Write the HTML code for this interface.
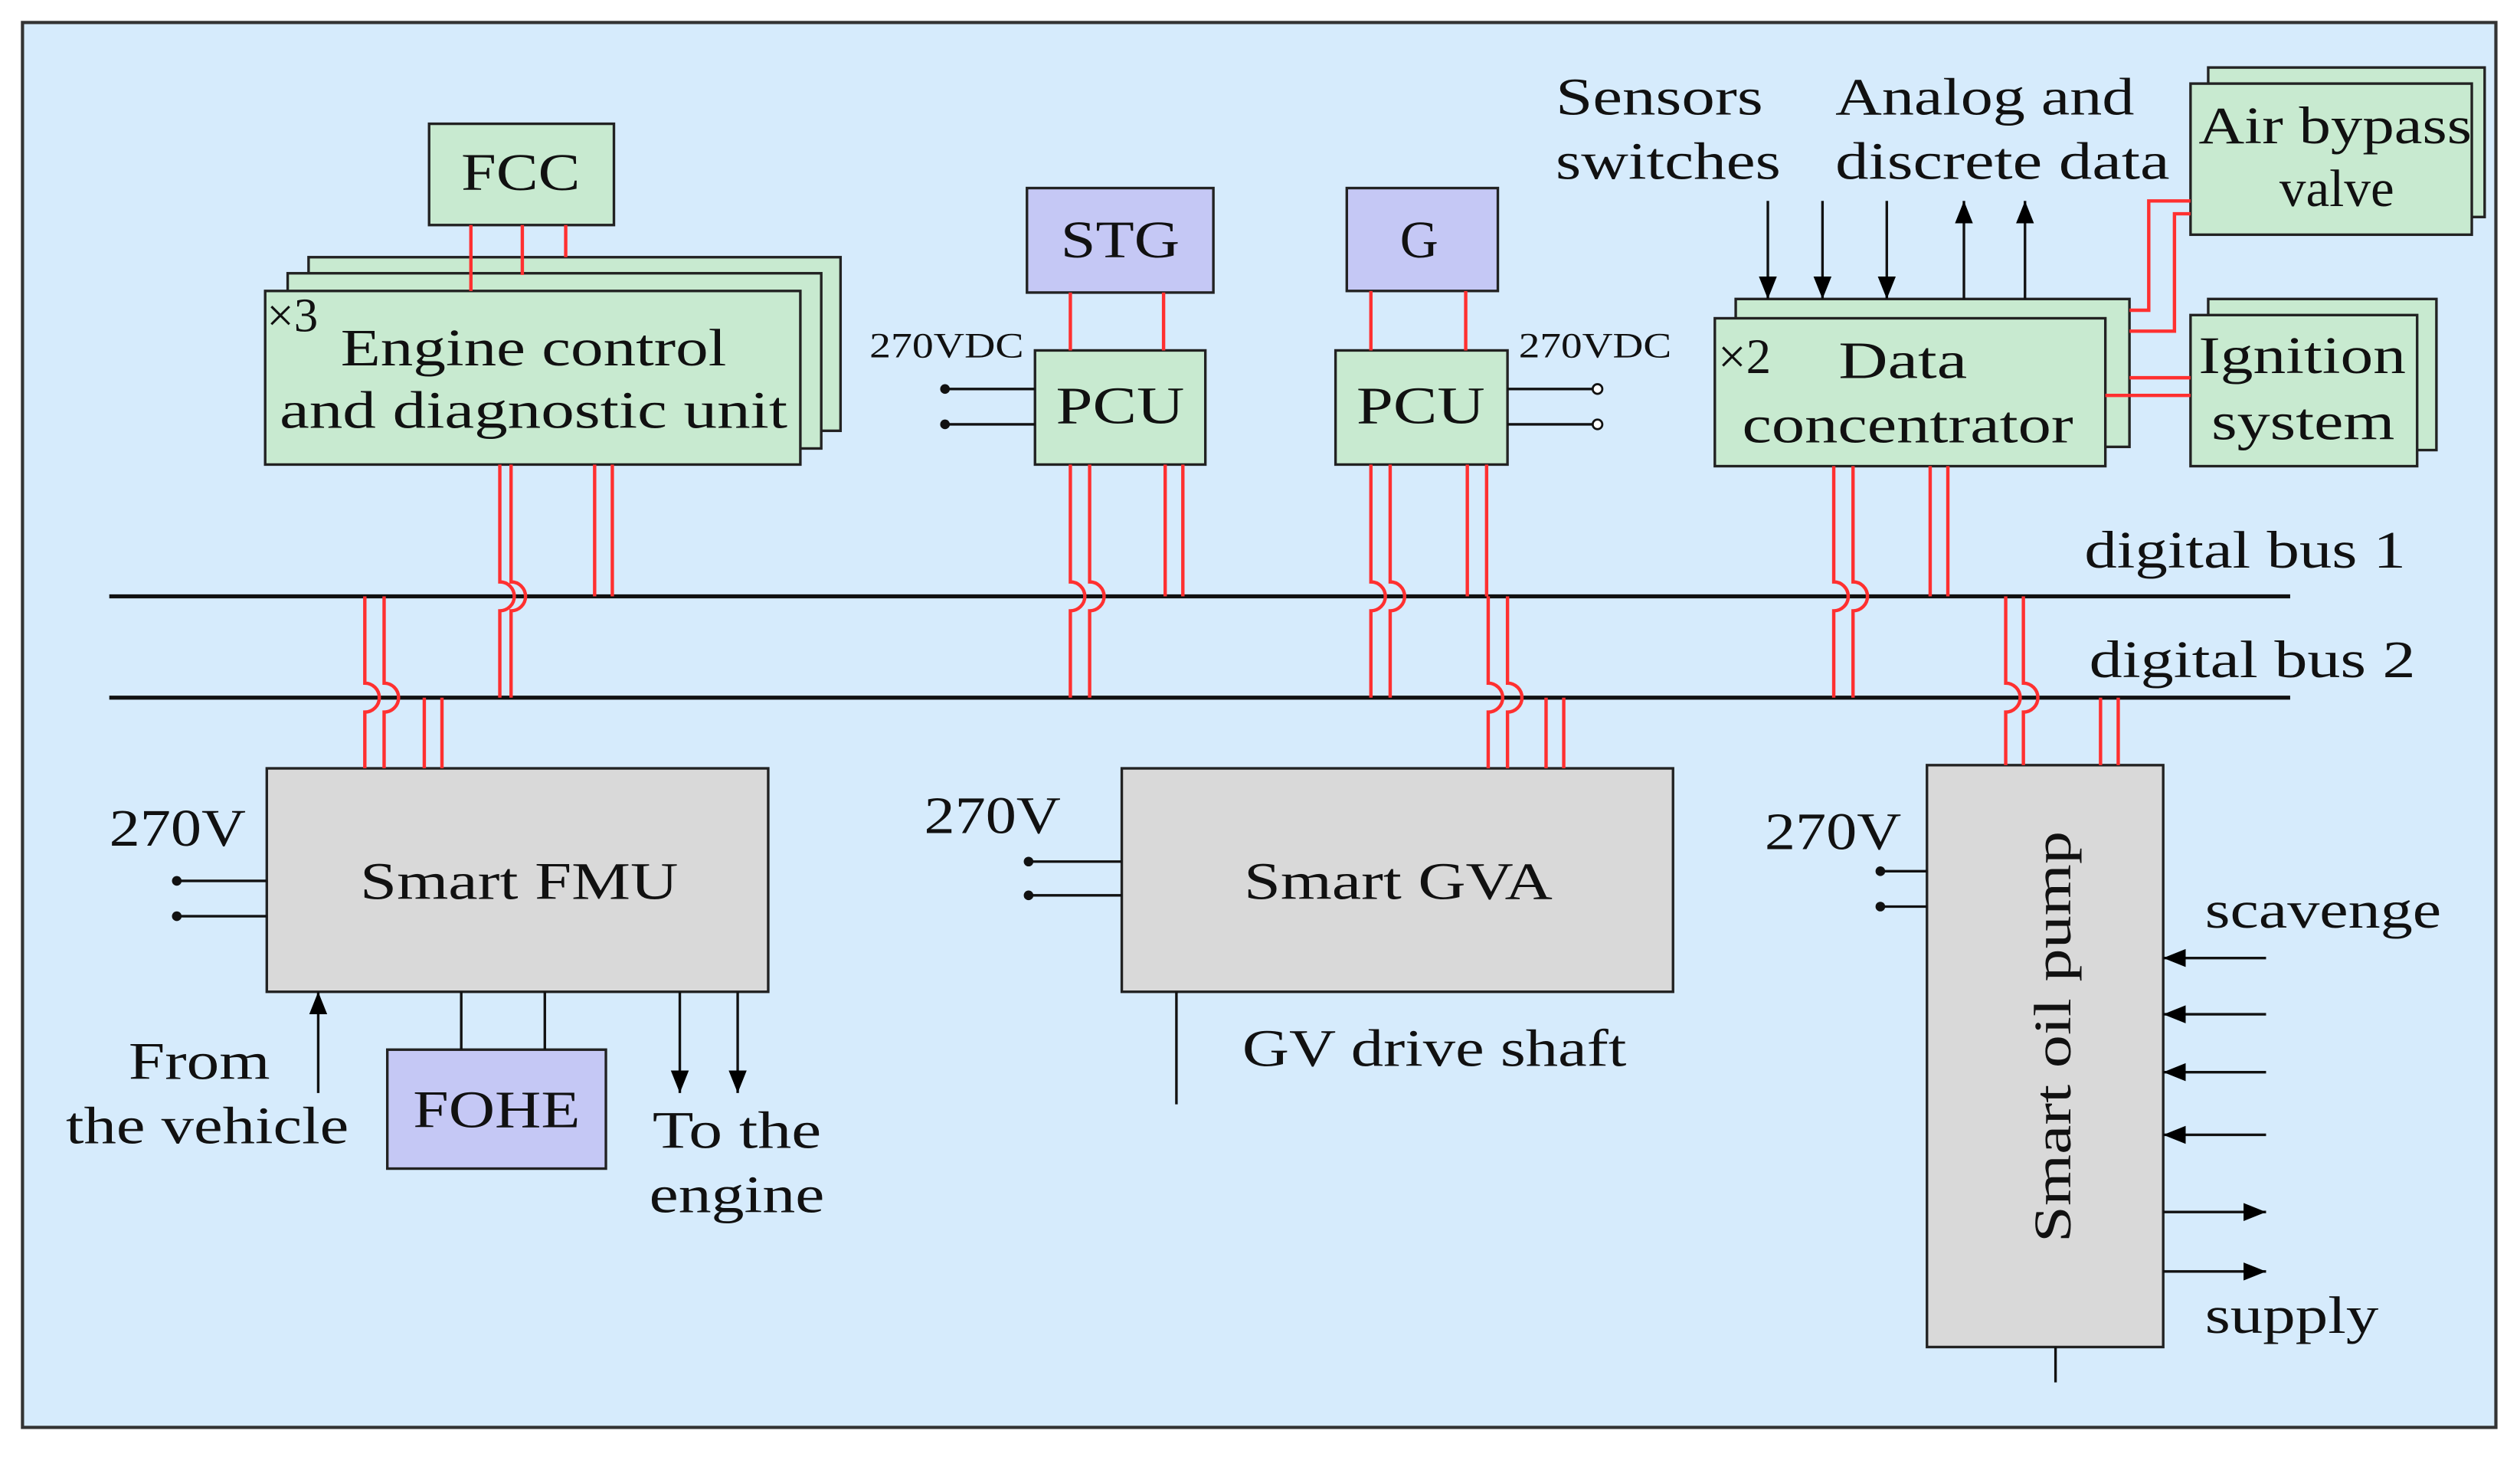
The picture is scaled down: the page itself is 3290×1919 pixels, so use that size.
<!DOCTYPE html>
<html><head><meta charset="utf-8"><style>
html,body{margin:0;padding:0;background:#fff;}
svg{display:block}
text{font-family:"Liberation Serif",serif;fill:#111;dominant-baseline:central}
</style></head><body>
<svg width="3290" height="1919" viewBox="0 0 1568 914.5" preserveAspectRatio="none" xmlns="http://www.w3.org/2000/svg">
<defs>
<marker id="a" viewBox="0 0 10 10" markerWidth="14" markerHeight="16" refX="10" refY="5" orient="auto" markerUnits="userSpaceOnUse">
<path d="M0,1 L10,5 L0,9 Z" fill="#000"/>
</marker>
</defs>
<rect x="14" y="14" width="1539" height="874" fill="#d6ebfc" stroke="#333" stroke-width="2"/>

<g stroke="#222" stroke-width="1.6">
<rect x="267" y="77" width="115" height="63" fill="#c8ead0"/>
<rect x="192" y="160" width="331" height="108" fill="#c8ead0"/>
<rect x="179" y="170" width="332" height="109" fill="#c8ead0"/>
<rect x="165" y="181" width="333" height="108" fill="#c8ead0"/>
<rect x="639" y="117" width="116" height="65" fill="#c5c8f5"/>
<rect x="838" y="117" width="94" height="64" fill="#c5c8f5"/>
<rect x="644" y="218" width="106" height="71" fill="#c8ead0"/>
<rect x="831" y="218" width="107" height="71" fill="#c8ead0"/>
<rect x="1080" y="186" width="245" height="92" fill="#c8ead0"/>
<rect x="1067" y="198" width="243" height="92" fill="#c8ead0"/>
<rect x="1374" y="42" width="172" height="93" fill="#c8ead0"/>
<rect x="1363" y="52" width="175" height="94" fill="#c8ead0"/>
<rect x="1374" y="186" width="142" height="94" fill="#c8ead0"/>
<rect x="1363" y="196" width="141" height="94" fill="#c8ead0"/>
<rect x="166" y="478" width="312" height="139" fill="#d9d9d9"/>
<rect x="241" y="653" width="136" height="74" fill="#c5c8f5"/>
<rect x="698" y="478" width="343" height="139" fill="#d9d9d9"/>
<rect x="1199" y="476" width="147" height="362" fill="#d9d9d9"/>
</g>

<g stroke="#111" stroke-width="2.5">
<line x1="68" y1="371" x2="1425" y2="371"/>
<line x1="68" y1="434" x2="1425" y2="434"/>
</g>

<g stroke="#ff3030" stroke-width="2.1" fill="none">
<path d="M293,140V181 M325,140V171 M352,140V160"/>
<path d="M666,182V218 M724,182V218 M853,181V218 M912,181V218"/>
<path d="M311,289V362A9,9 0 0 1 311,380V434 M318,289V362A9,9 0 0 1 318,380V434"/>
<path d="M370,289V371 M381,289V371"/>
<path d="M227,371V425A9,9 0 0 1 227,443V478 M239,371V425A9,9 0 0 1 239,443V478"/>
<path d="M264,434V478 M275,434V478"/>
<path d="M666,289V362A9,9 0 0 1 666,380V434 M678,289V362A9,9 0 0 1 678,380V434"/>
<path d="M725,289V371 M736,289V371"/>
<path d="M853,289V362A9,9 0 0 1 853,380V434 M865,289V362A9,9 0 0 1 865,380V434"/>
<path d="M913,289V371 M925,289V371"/>
<path d="M926,371V425A9,9 0 0 1 926,443V478 M938,371V425A9,9 0 0 1 938,443V478"/>
<path d="M962,434V478 M973,434V478"/>
<path d="M1141,290V362A9,9 0 0 1 1141,380V434 M1153,290V362A9,9 0 0 1 1153,380V434"/>
<path d="M1201,290V371 M1212,290V371"/>
<path d="M1248,371V425A9,9 0 0 1 1248,443V476 M1259,371V425A9,9 0 0 1 1259,443V476"/>
<path d="M1307,434V476 M1318,434V476"/>
<path d="M1325,193H1337V125H1363 M1325,206H1353V133H1363"/>
<path d="M1325,235H1363 M1310,246H1363"/>
</g>

<g stroke="#111" stroke-width="1.6" fill="none">
<path d="M588,242H644 M588,264H644 M938,242H994 M938,264H994"/>
<path d="M110,548H166 M110,570H166 M640,536H698 M640,557H698 M1170,542H1199 M1170,564H1199"/>
<path d="M287,617V653 M339,617V653 M732,617V687 M1279,838V860"/>
<line x1="1100" y1="125" x2="1100" y2="186" marker-end="url(#a)"/>
<line x1="1134" y1="125" x2="1134" y2="186" marker-end="url(#a)"/>
<line x1="1174" y1="125" x2="1174" y2="186" marker-end="url(#a)"/>
<line x1="1222" y1="186" x2="1222" y2="125" marker-end="url(#a)"/>
<line x1="1260" y1="186" x2="1260" y2="125" marker-end="url(#a)"/>
<line x1="198" y1="680" x2="198" y2="617" marker-end="url(#a)"/>
<line x1="423" y1="617" x2="423" y2="680" marker-end="url(#a)"/>
<line x1="459" y1="617" x2="459" y2="680" marker-end="url(#a)"/>
<line x1="1410" y1="596" x2="1346" y2="596" marker-end="url(#a)"/>
<line x1="1410" y1="631" x2="1346" y2="631" marker-end="url(#a)"/>
<line x1="1410" y1="667" x2="1346" y2="667" marker-end="url(#a)"/>
<line x1="1410" y1="706" x2="1346" y2="706" marker-end="url(#a)"/>
<line x1="1346" y1="754" x2="1410" y2="754" marker-end="url(#a)"/>
<line x1="1346" y1="791" x2="1410" y2="791" marker-end="url(#a)"/>
</g>
<g fill="#111">
<circle cx="588" cy="242" r="3"/><circle cx="588" cy="264" r="3"/>
<circle cx="110" cy="548" r="3"/><circle cx="110" cy="570" r="3"/>
<circle cx="640" cy="536" r="3"/><circle cx="640" cy="557" r="3"/>
<circle cx="1170" cy="542" r="3"/><circle cx="1170" cy="564" r="3"/>
</g>
<g fill="#fff" stroke="#111" stroke-width="1.3">
<circle cx="994" cy="242" r="3"/><circle cx="994" cy="264" r="3"/>
</g>

<g font-size="33">
<text x="324" y="107" text-anchor="middle" textLength="74" lengthAdjust="spacingAndGlyphs">FCC</text>
<text x="166" y="196" font-size="30">×3</text>
<text x="212" y="216" textLength="240" lengthAdjust="spacingAndGlyphs">Engine control</text>
<text x="174" y="255" textLength="316" lengthAdjust="spacingAndGlyphs">and diagnostic unit</text>
<text x="697" y="149" text-anchor="middle" textLength="74" lengthAdjust="spacingAndGlyphs">STG</text>
<text x="883" y="149" text-anchor="middle">G</text>
<text x="697" y="252" text-anchor="middle" textLength="80" lengthAdjust="spacingAndGlyphs">PCU</text>
<text x="884" y="252" text-anchor="middle" textLength="80" lengthAdjust="spacingAndGlyphs">PCU</text>
<text x="541" y="215" font-size="22" textLength="96" lengthAdjust="spacingAndGlyphs">270VDC</text>
<text x="945" y="215" font-size="22" textLength="95" lengthAdjust="spacingAndGlyphs">270VDC</text>
<text x="968" y="60" textLength="129" lengthAdjust="spacingAndGlyphs">Sensors</text>
<text x="968" y="100" textLength="140" lengthAdjust="spacingAndGlyphs">switches</text>
<text x="1142" y="60" textLength="186" lengthAdjust="spacingAndGlyphs">Analog and</text>
<text x="1142" y="100" textLength="208" lengthAdjust="spacingAndGlyphs">discrete data</text>
<text x="1368" y="78" textLength="170" lengthAdjust="spacingAndGlyphs">Air bypass</text>
<text x="1454" y="117" text-anchor="middle">valve</text>
<text x="1069" y="222" font-size="31">×2</text>
<text x="1144" y="224" textLength="80" lengthAdjust="spacingAndGlyphs">Data</text>
<text x="1084" y="264" textLength="206" lengthAdjust="spacingAndGlyphs">concentrator</text>
<text x="1368" y="221" textLength="129" lengthAdjust="spacingAndGlyphs">Ignition</text>
<text x="1376" y="262" textLength="114" lengthAdjust="spacingAndGlyphs">system</text>
<text x="1297" y="342" textLength="200" lengthAdjust="spacingAndGlyphs">digital bus 1</text>
<text x="1300" y="410" textLength="203" lengthAdjust="spacingAndGlyphs">digital bus 2</text>
<text x="68" y="515" textLength="85" lengthAdjust="spacingAndGlyphs">270V</text>
<text x="575" y="507" textLength="85" lengthAdjust="spacingAndGlyphs">270V</text>
<text x="1098" y="517" textLength="85" lengthAdjust="spacingAndGlyphs">270V</text>
<text x="224" y="548" textLength="198" lengthAdjust="spacingAndGlyphs">Smart FMU</text>
<text x="774" y="548" textLength="192" lengthAdjust="spacingAndGlyphs">Smart GVA</text>
<text x="309" y="690" text-anchor="middle" textLength="104" lengthAdjust="spacingAndGlyphs">FOHE</text>
<text x="80" y="660" textLength="88" lengthAdjust="spacingAndGlyphs">From</text>
<text x="41" y="700" textLength="176" lengthAdjust="spacingAndGlyphs">the vehicle</text>
<text x="406" y="703" textLength="105" lengthAdjust="spacingAndGlyphs">To the</text>
<text x="404" y="743" textLength="109" lengthAdjust="spacingAndGlyphs">engine</text>
<text x="773" y="652" textLength="239" lengthAdjust="spacingAndGlyphs">GV drive shaft</text>
<text x="1372" y="566" textLength="147" lengthAdjust="spacingAndGlyphs">scavenge</text>
<text x="1372" y="818" textLength="108" lengthAdjust="spacingAndGlyphs">supply</text>
<text x="0" y="0" text-anchor="middle" transform="translate(1277,645) rotate(-90)" textLength="256" lengthAdjust="spacingAndGlyphs">Smart oil pump</text>
</g>
</svg>
</body></html>
